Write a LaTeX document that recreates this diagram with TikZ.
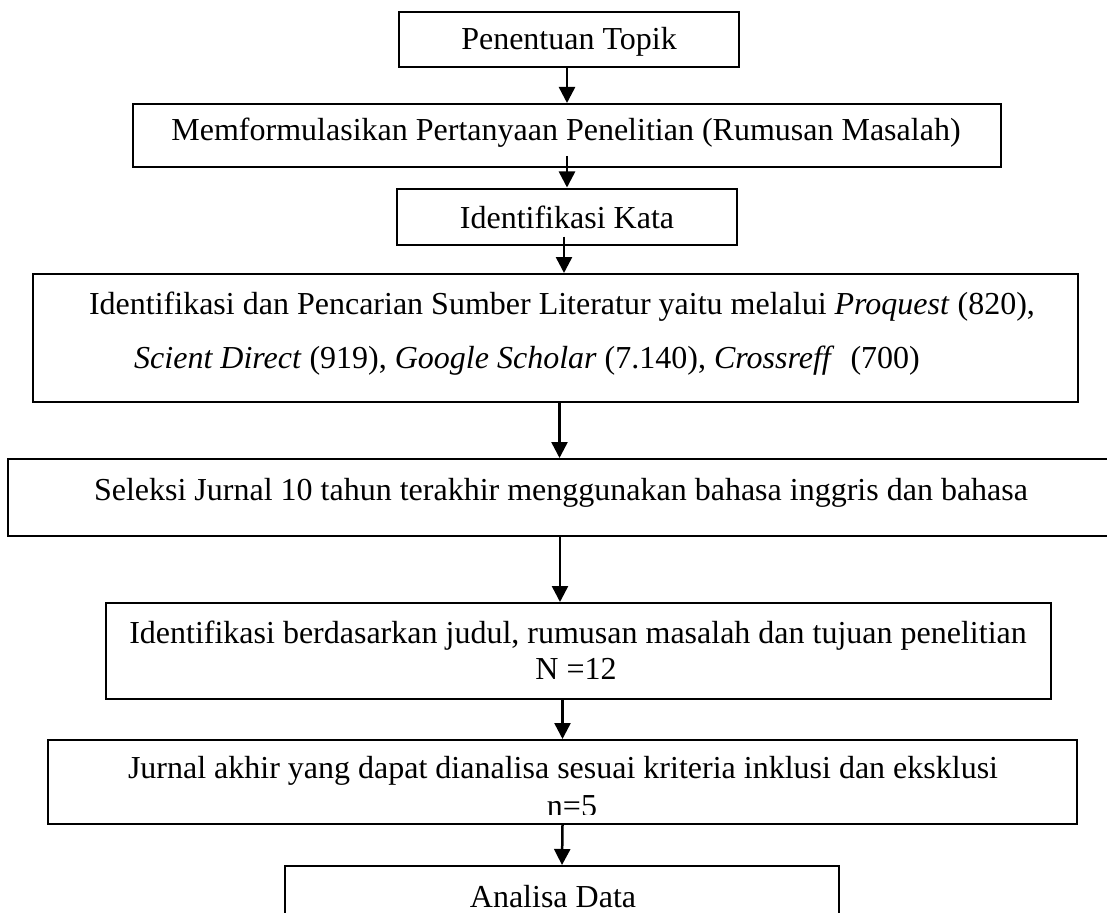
\documentclass[tikz,border=0pt]{standalone}
\usepackage{fontspec}
\setmainfont{Liberation Serif}
\usetikzlibrary{arrows.meta}
\begin{document}
\begin{tikzpicture}[x=1pt,y=-1pt,
  box/.style={draw, line width=2pt, rectangle, inner sep=0pt},
  txt/.style={font=\fontsize{32}{43}\selectfont, inner sep=0pt, anchor=base},
  arr/.style={line width=2.5pt, -{Triangle[length=16pt,width=16pt]}}]
\useasboundingbox (0,0) rectangle (1107,912);
\clip (0,0) rectangle (1107,912);
\fill[white] (0,0) rectangle (1107,912);
% boxes
\node[box, minimum width=340, minimum height=55] (b1) at (569,39.5) {};
\node[box, minimum width=868, minimum height=63] (b2) at (567,135.5) {};
\node[box, minimum width=340, minimum height=56] (b3) at (567,216.5) {};
\node[box, minimum width=1045, minimum height=128] (b4) at (555.5,338) {};
\node[box, minimum width=1123, minimum height=77] (b5) at (569.5,497.5) {};
\node[box, minimum width=945, minimum height=96] (b6) at (578.5,651) {};
\node[box, minimum width=1029, minimum height=84] (b7) at (562.5,782) {};
\node[box, minimum width=554, minimum height=70] (b8) at (562,901) {};
% texts
\node[txt] (t1) at (569,49.5) {Penentuan Topik};
\node[txt] (t2) at (566,141) {Memformulasikan Pertanyaan Penelitian (Rumusan Masalah)};
\node[txt] (t3) at (567,228) {Identifikasi Kata};
\node[txt] (t4a) at (562,314) {Identifikasi dan Pencarian Sumber Literatur yaitu melalui \textit{Proquest} (820),};
\node[txt] (t4b) at (527,368) {\textit{Scient Direct} (919), \textit{Google Scholar} (7.140), \textit{Crossreff}\ \ (700)};
\node[txt] (t5) at (561,500) {Seleksi Jurnal 10 tahun terakhir menggunakan bahasa inggris dan bahasa};
\node[txt] (t6a) at (578,643) {Identifikasi berdasarkan judul, rumusan masalah dan tujuan penelitian};
\node[txt] (t6b) at (576,679) {N =12};
\node[txt] (t7a) at (563,778) {Jurnal akhir yang dapat dianalisa sesuai kriteria inklusi dan eksklusi};
\begin{scope}
\clip (0,700) rectangle (1107,814);
\node[txt] (t7b) at (572,816) {n=5};
\end{scope}
\node[txt] (t8) at (553,907) {Analisa Data};
% arrows
\draw[arr] ([xshift=-2pt]b1.south) -- (b2.north);
\draw[arr] ([yshift=12pt]b2.south) -- (b3.north);
\draw[arr] ([xshift=-3pt,yshift=9pt]b3.south) -- ([xshift=8.5pt]b4.north);
\draw[arr] ([xshift=4pt]b4.south) -- ([xshift=-10pt]b5.north);
\draw[arr] ([xshift=-9.5pt]b5.south) -- ([xshift=-18.5pt]b6.north);
\draw[arr] ([xshift=-16pt]b6.south) -- (b7.north);
\draw[arr] (b7.south) -- (b8.north);
\end{tikzpicture}
\end{document}
